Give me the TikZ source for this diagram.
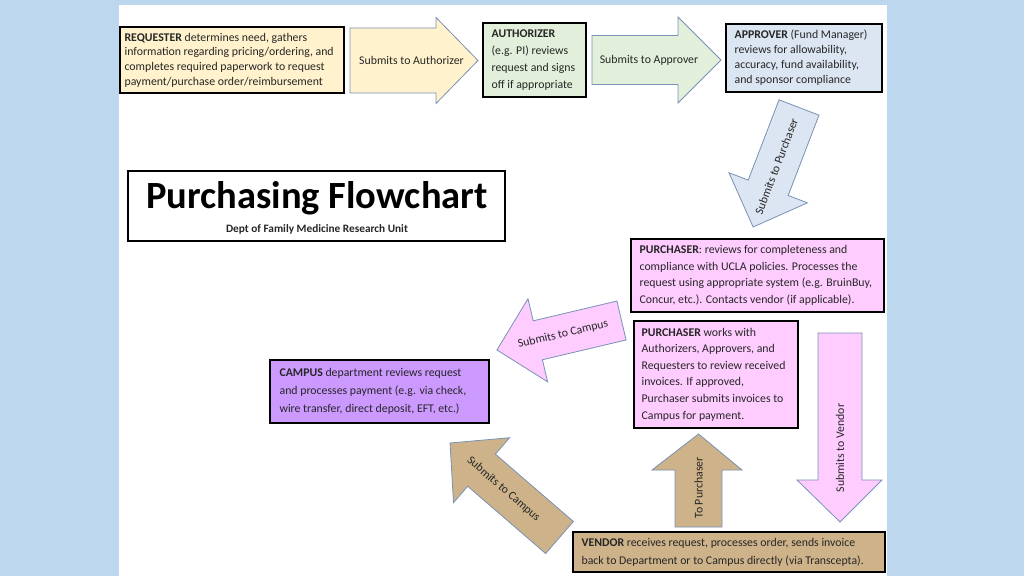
\documentclass[tikz,border=0pt]{standalone}
\usepackage{fontspec}
\setmainfont{Carlito}
\definecolor{bgblue}{RGB}{189,215,238}
\definecolor{reqfill}{RGB}{255,242,204}
\definecolor{authfill}{RGB}{226,239,218}
\definecolor{apprfill}{RGB}{220,230,242}
\definecolor{pinkfill}{RGB}{255,204,255}
\definecolor{campfill}{RGB}{204,153,255}
\definecolor{tanfill}{RGB}{206,179,138}
\definecolor{arrline}{RGB}{120,145,180}
\definecolor{txtcol}{RGB}{38,38,38}
\newcommand\bodyfont[1]{\fontsize{11.8}{#1}\selectfont}
\tikzset{
  box/.style={draw=black, line width=1.2pt, inner sep=0pt},
  btext/.style={anchor=west, align=left, inner sep=0pt, text=txtcol},
  arrowshape/.style={draw=arrline, line width=0.8pt},
  arrlabel/.style={font=\fontsize{11.8}{13}\selectfont, text=txtcol, inner sep=0pt},
}
\begin{document}
\begin{tikzpicture}[x=1pt,y=1pt]
\useasboundingbox (0,0) rectangle (1024,576);
\fill[bgblue] (0,0) rectangle (1024,576);
\fill[white] (119,0) rectangle (887,571);

% ---------- boxes ----------
\node[box, fill=reqfill, minimum width=224, minimum height=66] (req) at (232,516) {};
\node[btext, font=\bodyfont{14.7}] (reqt) at ([xshift=5]req.west)
 {\textbf{REQUESTER} determines need, gathers\\ information regarding pricing/ordering, and\\ completes required paperwork to request\\ payment/purchase order/reimbursement};

\node[box, fill=authfill, minimum width=103, minimum height=74] (auth) at (534.5,516) {};
\node[btext, font=\bodyfont{17}] (autht) at ([xshift=9]auth.west)
 {\textbf{AUTHORIZER}\\ (e.g. PI) reviews\\ request and signs\\ off if appropriate};

\node[box, fill=apprfill, minimum width=156, minimum height=68] (appr) at (804,518) {};
\node[btext, font=\bodyfont{15}] (apprt) at ([xshift=9]appr.west)
 {\textbf{APPROVER} (Fund Manager)\\ reviews for allowability,\\ accuracy, fund availability,\\ and sponsor compliance};

\node[box, line width=1.8pt, fill=white, minimum width=377, minimum height=70] (title) at (316.5,370) {};
\node[font=\fontsize{38.5}{40}\bfseries, text=black, inner sep=0pt] (titlet) at (317,378) {Purchasing Flowchart};
\node[font=\fontsize{11.3}{13}\bfseries, text=txtcol, inner sep=0pt] (subt) at (317,347) {Dept of Family Medicine Research Unit};

\node[box, fill=pinkfill, minimum width=253, minimum height=73] (pur1) at (757.5,300.5) {};
\node[btext, font=\bodyfont{16.5}] (pur1t) at ([xshift=9]pur1.west)
 {\textbf{PURCHASER}: reviews for completeness and\\ compliance with UCLA policies. Processes the\\ request using appropriate system (e.g. BruinBuy,\\ Concur, etc.). Contacts vendor (if applicable).};

\node[box, fill=pinkfill, minimum width=164, minimum height=107] (pur2) at (716,201.5) {};
\node[btext, font=\bodyfont{16.6}] (pur2t) at ([xshift=8]pur2.west)
 {\textbf{PURCHASER} works with\\ Authorizers, Approvers, and\\ Requesters to review received\\ invoices. If approved,\\ Purchaser submits invoices to\\ Campus for payment.};

\node[box, fill=campfill, minimum width=219, minimum height=63] (camp) at (379.5,184.5) {};
\node[btext, font=\bodyfont{18}] (campt) at ([xshift=10]camp.west)
 {\textbf{CAMPUS} department reviews request\\ and processes payment (e.g. via check,\\ wire transfer, direct deposit, EFT, etc.)};

\node[box, fill=tanfill, minimum width=312, minimum height=40] (vend) at (729,24) {};
\node[btext, font=\bodyfont{18}] (vendt) at ([xshift=9]vend.west)
 {\textbf{VENDOR} receives request, processes order, sends invoice\\ back to Department or to Campus directly (via Transcepta).};

% ---------- block arrows ----------
% Submits to Authorizer
\draw[arrowshape, fill=reqfill] (350,483) -- (436,483) -- (436,472.5) -- (478,515.5) -- (436,558.5) -- (436,548) -- (350,548) -- cycle;
\node[arrlabel] (a1) at (411.5,515.5) {Submits to Authorizer};

% Submits to Approver
\draw[arrowshape, fill=authfill] (592,491.5) -- (678,491.5) -- (678,473) -- (721,516) -- (678,559) -- (678,540.5) -- (592,540.5) -- cycle;
\node[arrlabel] (a2) at (649,516) {Submits to Approver};

% Submits to Purchaser (diagonal)
\begin{scope}[shift={(799,468.5)},rotate=-111]
  \draw[arrowshape, fill=apprfill] (0,-21.4) -- (86,-21.4) -- (86,-42) -- (128,0) -- (86,42) -- (86,21.4) -- (0,21.4) -- cycle;
  \node[arrlabel, rotate=69] (a3) at (63,0) {Submits to Purchaser};
\end{scope}

% Submits to Vendor (down)
\draw[arrowshape, fill=pinkfill] (818,243) -- (818,96) -- (797,96) -- (840,54) -- (882,96) -- (862,96) -- (862,243) -- cycle;
\node[arrlabel, rotate=90] (a4) at (840,128) {Submits to Vendor};

% To Purchaser (up)
\draw[arrowshape, fill=tanfill] (675,49) -- (675,106) -- (652,106) -- (698.5,142) -- (742,106) -- (722,106) -- (722,49) -- cycle;
\node[arrlabel, rotate=90] (a5) at (698.5,88) {To Purchaser};

% Submits to Campus (pink, pointing left)
\begin{scope}[shift={(621.5,255.5)},rotate=193.3]
  \draw[arrowshape, fill=pinkfill] (0,-20) -- (86,-20) -- (86,-42.7) -- (128,0) -- (86,42.7) -- (86,20) -- (0,20) -- cycle;
  \node[arrlabel, rotate=13.3] (a6) at (60,0) {Submits to Campus};
\end{scope}

% Submits to Campus (tan, diagonal)
\begin{scope}[shift={(559.5,38.5)},rotate=139.2]
  \draw[arrowshape, fill=tanfill] (0,-21.2) -- (103,-21.2) -- (103,-42.9) -- (144.6,0) -- (103,42.9) -- (103,21.2) -- (0,21.2) -- cycle;
  \node[arrlabel, rotate=-40.8] (a7) at (74,0) {Submits to Campus};
\end{scope}
\end{tikzpicture}
\end{document}
